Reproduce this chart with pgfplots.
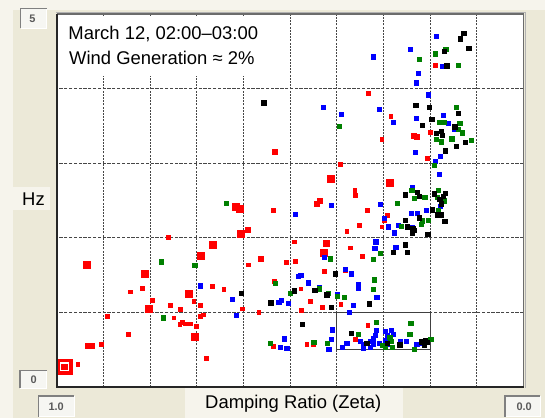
\documentclass[border=0pt]{standalone}
\usepackage{fontspec}
\setmainfont{Liberation Sans}
\usepackage{pgfplots}
\pgfplotsset{compat=1.18}
\definecolor{panel}{RGB}{236,233,216}
\definecolor{paper}{RGB}{246,244,236}
\definecolor{gridc}{RGB}{70,70,70}
\definecolor{ptgreen}{RGB}{0,128,0}
\definecolor{boxfill}{RGB}{246,246,242}
\definecolor{boxtext}{RGB}{90,90,90}

% sunken value field: lower-left x, y, upper-right x, y
\newcommand{\valbox}[4]{%
  \fill[boxfill] (#1,#2) rectangle (#3,#4);
  \draw[white, line width=1bp] (#1,#2) -- (#3,#2) -- (#3,#4);
  \draw[gray, line width=1.2bp] (#1,#2) -- (#1,#4) -- (#3,#4);
}
\pgfplotsset{
  pt/.style={only marks, mark=square*, #1, mark options={draw=#1, fill=#1, line width=0.2bp}},
}

\begin{document}
\begin{tikzpicture}[x=1bp,y=1bp]
% window background and panels
\fill[paper] (-57,-31) rectangle (488,387);
\fill[panel] (-44,-31) rectangle (488,377);
\fill[paper] (-44,177) rectangle (-7,200);
\fill[paper] (128,-31) rectangle (346,-1);
% plot area
\fill[white] (0,0) rectangle (466.5,373);

\begin{axis}[
  at={(0,0)}, anchor=south west,
  scale only axis, width=466.5bp, height=373bp,
  x dir=reverse, xmin=0, xmax=1, ymin=0, ymax=5,
  xtick={0.1,0.2,0.3,0.4,0.5,0.6,0.7,0.8,0.9},
  ytick={1,2,3,4},
  xticklabels={}, yticklabels={},
  major tick length=0pt,
  xmajorgrids, ymajorgrids,
  major x grid style={gridc, line width=1.1bp, dash pattern=on 2bp off 1.2bp},
  major y grid style={gridc, line width=1.1bp, dash pattern=on 3.3bp off 1.5bp},
  axis line style={draw=none},
  clip=false,
]
% highlighted region
\addplot[black!75, line width=1.1bp, mark=none] coordinates {(0.4,0.5) (0.2,0.5) (0.2,1.0) (0.4,1.0)} -- cycle;

% red, large
\addplot[pt=red, mark size=3.4bp] coordinates {
(0.414,2.79) (0.617,2.42) (0.609,2.39) (0.607,2.06) (0.667,1.91) (0.423,1.93) (0.693,1.76)
(0.428,1.80) (0.936,1.64) (0.813,1.52) (0.718,1.25) (0.804,1.05) (0.705,0.68) (0.287,2.74)
};
% red, medium
\addplot[pt=red, mark size=2.5bp] coordinates {
(0.533,3.16) (0.592,2.11) (0.564,1.72) (0.935,0.55) (0.926,0.55) (0.236,3.37) (0.229,3.36)
(0.438,2.50) (0.444,2.46)
};
% red, small
\addplot[pt=red, mark size=1.9bp] coordinates {
(0.333,3.94) (0.394,2.99) (0.362,2.64) (0.361,2.57) (0.536,2.37) (0.335,2.37) (0.353,2.17)
(0.379,2.09) (0.762,2.01) (0.492,1.95) (0.371,1.87) (0.346,1.76) (0.590,1.64) (0.509,1.67)
(0.489,1.69) (0.535,1.42) (0.428,1.55) (0.383,1.57) (0.844,1.28) (0.818,1.33) (0.667,1.35)
(0.643,1.31) (0.478,1.32) (0.796,1.16) (0.707,1.15) (0.694,1.10) (0.758,1.10) (0.736,1.04)
(0.893,0.95) (0.750,0.93) (0.732,0.87) (0.737,0.84) (0.725,0.85) (0.714,0.85) (0.693,0.95)
(0.687,0.97) (0.701,0.82) (0.848,0.71) (0.905,0.58) (0.681,0.39) (0.956,0.31) (0.457,1.15)
(0.392,1.11) (0.603,1.05) (0.431,1.07) (0.568,1.00) (0.477,1.03) (0.334,0.83) (0.361,0.64)
(0.537,0.55) (0.465,0.57) (0.451,0.57) (0.304,3.32) (0.206,3.07) (0.285,3.63) (0.190,4.32)
(0.201,3.42) (0.292,2.30) (0.298,2.23) (0.304,2.15)
};
% blue
\addplot[pt=blue, mark size=2.1bp] coordinates {
(0.323,4.43) (0.243,4.53) (0.226,4.21) (0.231,4.08) (0.187,4.70) (0.174,4.30) (0.205,3.92)
(0.310,3.72) (0.280,3.55) (0.231,3.60) (0.173,3.65) (0.162,3.54) (0.149,3.46) (0.233,3.15)
(0.179,3.09) (0.190,3.03) (0.181,2.85) (0.238,2.68) (0.430,3.75) (0.391,3.66) (0.308,2.45)
(0.412,2.44) (0.489,2.32) (0.208,2.37) (0.179,2.42) (0.241,2.33) (0.228,2.33) (0.299,2.26)
(0.290,2.15) (0.268,2.17) (0.278,2.07) (0.240,2.14) (0.317,1.95) (0.319,1.86) (0.274,1.88)
(0.427,1.74) (0.383,1.58) (0.369,1.52) (0.483,1.49) (0.478,1.50) (0.354,1.38) (0.354,1.33)
(0.462,1.40) (0.439,1.34) (0.400,1.24) (0.315,1.20) (0.625,1.18) (0.525,1.14) (0.519,1.17)
(0.505,1.12) (0.366,1.10) (0.374,1.00) (0.616,0.96) (0.693,1.36) (0.410,0.77) (0.513,0.65)
(0.521,0.53) (0.508,0.52) (0.413,0.64) (0.418,0.51) (0.379,0.59) (0.389,0.54) (0.350,0.61)
(0.343,0.58) (0.343,0.52) (0.329,0.53) (0.316,0.76) (0.318,0.70) (0.323,0.65) (0.328,0.61)
(0.323,0.57) (0.297,0.75) (0.293,0.70) (0.283,0.76) (0.280,0.71) (0.297,0.63) (0.292,0.58)
(0.310,0.59) (0.264,0.61) (0.252,0.61) (0.229,0.57) (0.217,0.59)
};
% green
\addplot[pt=ptgreen, mark size=2.1bp] coordinates {
(0.223,4.40) (0.167,4.53) (0.190,4.47) (0.140,4.32) (0.396,3.50) (0.144,3.75) (0.180,3.55)
(0.170,3.55) (0.137,3.54) (0.140,3.46) (0.132,3.41) (0.177,3.29) (0.188,3.32) (0.154,3.33)
(0.113,3.31) (0.192,2.97) (0.240,2.64) (0.235,2.53) (0.212,2.55) (0.183,2.64) (0.271,2.47)
(0.185,2.55) (0.170,2.50) (0.183,2.37) (0.204,2.24) (0.217,2.23) (0.220,2.18) (0.263,2.16)
(0.308,1.80) (0.322,1.71) (0.320,1.44) (0.323,1.31) (0.637,2.46) (0.776,1.68) (0.705,1.63)
(0.773,0.93) (0.415,1.72) (0.533,1.39) (0.438,1.32) (0.500,1.26) (0.419,1.26) (0.400,1.22)
(0.385,1.21) (0.543,0.59) (0.450,0.60) (0.421,0.59) (0.316,0.87) (0.354,0.71) (0.242,0.86)
(0.244,0.71) (0.287,0.67) (0.285,0.61) (0.303,0.56) (0.297,0.54) (0.281,0.54) (0.234,0.51)
(0.199,0.64)
};
% black
\addplot[pt=black, mark size=2.2bp] coordinates {
(0.128,4.74) (0.136,4.67) (0.118,4.54) (0.170,4.50) (0.165,4.31) (0.557,3.81) (0.231,3.78)
(0.203,3.75) (0.218,3.51) (0.197,3.59) (0.140,3.67) (0.148,3.49) (0.187,3.40) (0.177,3.43)
(0.174,3.38) (0.125,3.28) (0.144,3.23) (0.168,3.17) (0.228,2.61) (0.224,2.56) (0.168,2.60)
(0.173,2.56) (0.180,2.52) (0.192,2.59) (0.254,2.58) (0.177,2.46) (0.196,2.38) (0.185,2.31)
(0.177,2.31) (0.169,2.22) (0.224,2.27) (0.254,2.24) (0.250,2.15) (0.238,2.13) (0.234,2.10)
(0.239,2.06) (0.206,2.05) (0.254,1.91) (0.279,1.81) (0.250,1.81) (0.404,1.52) (0.448,1.30)
(0.492,1.29) (0.606,1.26) (0.542,1.13) (0.331,1.12) (0.413,1.07) (0.474,0.84) (0.369,0.72)
(0.336,0.59) (0.266,0.57) (0.219,0.61) (0.213,0.57) (0.207,0.60) (0.211,0.63) (0.422,1.24)
(0.293,0.59)
};
% selected point
\addplot[pt=red, mark size=7.5bp] coordinates {(0.984,0.27)};
\addplot[only marks, mark=square, mark size=3.8bp, mark options={draw=white, line width=1.4bp}] coordinates {(0.984,0.27)};
\end{axis}

% frame of the plot area
\draw[gray!85!black, line width=1.6bp] (0,373) -- (466.5,373) -- (466.5,0);
\draw[gray!60, line width=1.2bp] (-1,374.8) -- (468.3,374.8) -- (468.3,-1);
\draw[black!85, line width=1.6bp] (0,373) -- (0,0) -- (466.5,0);

% caption inside the plot
\fill[white] (1.5,311) rectangle (213,371);
\node[anchor=base west, inner sep=0pt, font=\fontsize{18.5}{20}\selectfont] at (11.3,347.5) {March 12, 02:00–03:00};
\node[anchor=base west, inner sep=0pt, font=\fontsize{18.5}{20}\selectfont] at (12,322.7) {Wind Generation ≈ 2\%};

% axis titles
\node[anchor=base west, inner sep=0pt, font=\fontsize{18.5}{20}\selectfont] at (-35,182) {Hz};
\node[anchor=base west, inner sep=0pt, font=\fontsize{18.5}{20}\selectfont] at (148,-21.5) {Damping Ratio (Zeta)};

% range fields
\valbox{-36.3}{358.7}{-10.3}{378.7}
\node[font=\fontsize{11}{12}\bfseries\selectfont, text=boxtext, inner sep=0pt] at (-24.5,368.5) {5};
\valbox{-37}{-1.3}{-10.3}{16.3}
\node[font=\fontsize{11}{12}\bfseries\selectfont, text=boxtext, inner sep=0pt] at (-23.3,7.3) {0};
\valbox{-18.7}{-29.7}{17}{-9}
\node[font=\fontsize{11}{12}\bfseries\selectfont, text=boxtext, inner sep=0pt] at (-0.8,-19.5) {1.0};
\valbox{448}{-29.7}{483}{-9}
\node[font=\fontsize{11}{12}\bfseries\selectfont, text=boxtext, inner sep=0pt] at (467.2,-19.5) {0.0};

\pgfresetboundingbox
\path[use as bounding box] (-57,-31) rectangle (488,387);
\end{tikzpicture}
\end{document}
